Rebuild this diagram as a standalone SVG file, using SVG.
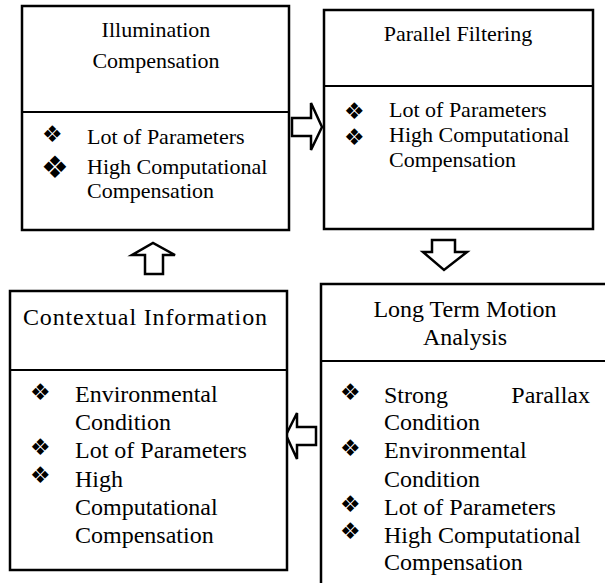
<svg xmlns="http://www.w3.org/2000/svg" width="605" height="583" viewBox="0 0 605 583">
<style>
.box{fill:#fff;stroke:#000;stroke-width:2.5}
.div{stroke:#000;stroke-width:2}
.arr{fill:#fff;stroke:#000;stroke-width:2.5;stroke-linejoin:miter}
.t{font-family:"Liberation Serif","Times New Roman",serif;fill:#000}
.s22{font-size:22px}
.s24{font-size:24px}
.c{text-anchor:middle}
.b{font-family:"DejaVu Sans",sans-serif;fill:#000;font-size:23px}
.bb{font-family:"DejaVu Sans",sans-serif;fill:#000;font-size:31px}
</style>
<rect width="605" height="583" fill="#fff"/>
<g id="connectors">
<polygon class="arr" points="292,118 311,118 311,103 322,127 311,150 311,136 292,136"/>
<polygon class="arr" points="145,274 145,255 132,255 153,243 175,255 163,255 163,274"/>
<polygon class="arr" points="432,240 455,240 455,252 467,252 444,270 423,252 432,252"/>
<polygon class="arr" points="316,427 297,427 297,413 286,435 297,459 297,445 316,445"/>
</g>
<g id="illumination">
<rect class="box" x="22" y="6" width="267" height="224"/>
<line class="div" x1="22" y1="112" x2="289" y2="112"/>
<text class="t s22 c" x="156" y="37">Illumination</text>
<text class="t s22 c" x="156" y="68">Compensation</text>
<text class="b" x="42" y="142">❖</text>
<text class="t s22" x="87" y="144">Lot of Parameters</text>
<text class="bb" x="41" y="178">❖</text>
<text class="t s22" x="87" y="174">High Computational</text>
<text class="t s22" x="87" y="198">Compensation</text>
</g>
<g id="parallel">
<rect class="box" x="324" y="10" width="269" height="219"/>
<line class="div" x1="324" y1="86" x2="593" y2="86"/>
<text class="t s22 c" x="458" y="41">Parallel Filtering</text>
<text class="b" x="344" y="119">❖</text>
<text class="t s22" x="389" y="117">Lot of Parameters</text>
<text class="b" x="344" y="145">❖</text>
<text class="t s22" x="389" y="142">High Computational</text>
<text class="t s22" x="389" y="167">Compensation</text>
</g>
<g id="contextual">
<rect class="box" x="10" y="291" width="277" height="279"/>
<line class="div" x1="10" y1="370" x2="287" y2="370"/>
<text class="t s24" x="23" y="325" textLength="244" lengthAdjust="spacing">Contextual Information</text>
<text class="b" x="30" y="400">❖</text>
<text class="t s24" x="75" y="402">Environmental</text>
<text class="t s24" x="75" y="430">Condition</text>
<text class="b" x="30" y="455">❖</text>
<text class="t s24" x="75" y="458">Lot of Parameters</text>
<text class="b" x="30" y="483">❖</text>
<text class="t s24" x="75" y="487">High</text>
<text class="t s24" x="75" y="515">Computational</text>
<text class="t s24" x="75" y="543">Compensation</text>
</g>
<g id="longterm">
<rect class="box" x="321" y="284" width="292" height="310"/>
<line class="div" x1="321" y1="361" x2="605" y2="361"/>
<text class="t s24 c" x="465" y="317">Long Term Motion</text>
<text class="t s24 c" x="465" y="345">Analysis</text>
<text class="b" x="340" y="400">❖</text>
<text class="t s24" x="384" y="403">Strong</text>
<text class="t s24" x="590" y="403" text-anchor="end">Parallax</text>
<text class="t s24" x="384" y="430">Condition</text>
<text class="b" x="340" y="456">❖</text>
<text class="t s24" x="384" y="458">Environmental</text>
<text class="t s24" x="384" y="487">Condition</text>
<text class="b" x="340" y="512">❖</text>
<text class="t s24" x="384" y="515">Lot of Parameters</text>
<text class="b" x="340" y="539">❖</text>
<text class="t s24" x="384" y="543">High Computational</text>
<text class="t s24" x="384" y="570">Compensation</text>
</g>
</svg>
